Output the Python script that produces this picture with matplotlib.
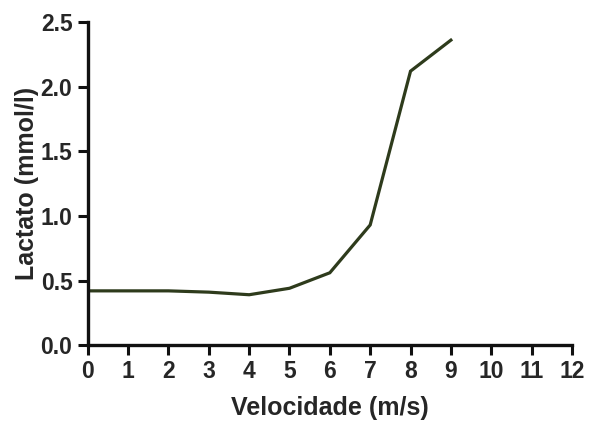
import matplotlib
matplotlib.use("Agg")
import matplotlib.pyplot as plt

velocidade = [0, 1, 2, 3, 4, 5, 6, 7, 8, 9]
lactato = [0.42, 0.42, 0.42, 0.41, 0.39, 0.44, 0.56, 0.93, 2.12, 2.36]
x_ticks = list(range(0, 13))
y_ticks = [0.0, 0.5, 1.0, 1.5, 2.0, 2.5]

plt.rcParams["font.family"] = ["Liberation Sans", "DejaVu Sans"]
plt.rcParams["font.weight"] = "bold"

fig = plt.figure(figsize=(5.89, 4.24), dpi=100)
ax = fig.add_axes([0.149, 0.186, 0.822, 0.762])
ax.plot(velocidade, lactato, color="#2e3b1c", lw=2.3, solid_joinstyle="miter")

ax.set_xlim(0, 12)
ax.set_ylim(0, 2.5)
ax.set_xticks(x_ticks)
ax.set_yticks(y_ticks)
ax.set_yticklabels([f"{v:.1f}" for v in y_ticks])
for s in ("top", "right"):
    ax.spines[s].set_visible(False)
for s in ("left", "bottom"):
    ax.spines[s].set_linewidth(2.4)
    ax.spines[s].set_color("#111111")
ax.tick_params(width=2.2, length=7, labelsize=16.5, colors="#111111", pad=4)
for lab in ax.get_xticklabels() + ax.get_yticklabels():
    lab.set_fontweight("bold")
    lab.set_color("#262626")
ax.set_xlabel("Velocidade (m/s)", fontsize=18, fontweight="bold", color="#262626", labelpad=9)
ax.set_ylabel("Lactato (mmol/l)", fontsize=18, fontweight="bold", color="#262626", labelpad=1)

fig.savefig("out.png", dpi=100)
